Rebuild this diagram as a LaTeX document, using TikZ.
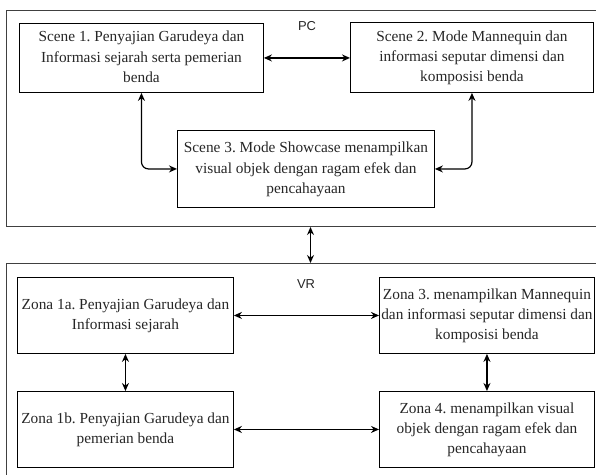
\documentclass[tikz,border=0pt]{standalone}
\usepackage{fontspec}
\setmainfont{Liberation Serif}
\newfontfamily\labelfont{Liberation Sans}
\usetikzlibrary{arrows.meta}
\newcommand{\mlines}[1]{\begin{tabular}{@{}c@{}}#1\end{tabular}}
\begin{document}
\begin{tikzpicture}[x=1bp,y=-1bp,
  box/.style={draw=black, line width=0.9bp, inner sep=0, anchor=north west,
    font=\fontsize{15.4}{20.5}\selectfont\frenchspacing, text=black!85},
  frame/.style={draw=black!75, line width=1bp, inner sep=0, anchor=north west},
  link/.style={line width=1.2bp, {Stealth[length=8bp,width=7bp]}-{Stealth[length=8bp,width=7bp]}, rounded corners=7bp},
  lbl/.style={font=\labelfont\fontsize{13}{15}\selectfont, text=black!85},
]
\useasboundingbox (0,0) rectangle (596,475);
\node[frame, minimum width=600bp, minimum height=216bp] (pc) at (6,10) {};
\node[frame, minimum width=600bp, minimum height=220bp] (vr) at (6,263) {};
\node[lbl] (pclabel) at (307,26) {PC};
\node[lbl] (vrlabel) at (306,284) {VR};

\node[box, minimum width=244bp, minimum height=69bp] (s1) at (19,23)
  {\mlines{Scene 1. Penyajian Garudeya dan\\Informasi sejarah serta pemerian\\benda}};
\node[box, minimum width=243bp, minimum height=70bp] (s2) at (350,22)
  {\mlines{Scene 2. Mode Mannequin dan\\informasi seputar dimensi dan\\komposisi benda}};
\node[box, minimum width=257bp, minimum height=77bp] (s3) at (177,130)
  {\mlines{Scene 3. Mode Showcase menampilkan\\visual objek dengan ragam efek dan\\pencahayaan}};

\node[box, minimum width=216bp, minimum height=76bp] (z1a) at (17,277)
  {\mlines{Zona 1a. Penyajian Garudeya dan\\Informasi sejarah}};
\node[box, minimum width=216bp, minimum height=76bp] (z1b) at (17,391)
  {\mlines{Zona 1b. Penyajian Garudeya dan\\pemerian benda}};
\node[box, minimum width=215bp, minimum height=76bp] (z3) at (379,277)
  {\mlines{Zona 3. menampilkan Mannequin\\dan informasi seputar dimensi dan\\komposisi benda}};
\node[box, minimum width=215bp, minimum height=76bp] (z4) at (379,391)
  {\mlines{Zona 4. menampilkan visual\\objek dengan ragam efek dan\\pencahayaan}};

\draw[link] (s1.east) -- (s2.west |- s1.east);
\draw[link] (s1.south) |- (s3.west);
\draw[link] (s2.south) |- (s3.east);
\draw[link] ([xshift=4bp]pc.south) -- ([xshift=4bp]vr.north);
\draw[link] (z1a.east) -- (z3.west);
\draw[link] (z1b.east) -- (z4.west);
\draw[link] (z1a.south) -- (z1b.north);
\draw[link] (z3.south) -- (z4.north);
\end{tikzpicture}
\end{document}
